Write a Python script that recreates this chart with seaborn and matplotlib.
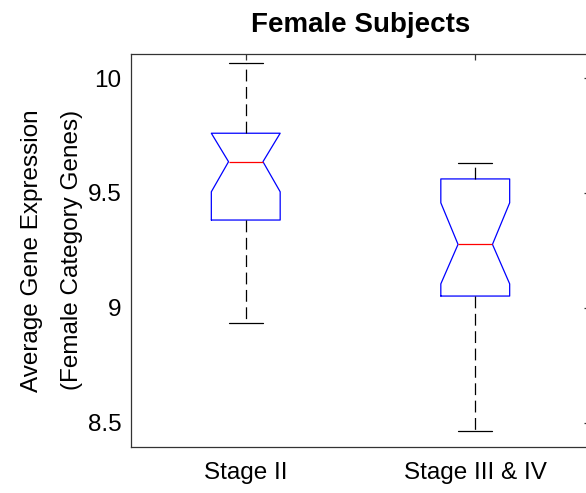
import matplotlib
matplotlib.use("Agg")
import matplotlib.pyplot as plt
import seaborn as sns

# Summary statistics of average gene expression per tumour stage
stages = ["Stage II", "Stage III & IV"]
whisker_low = [8.932, 8.464]
quartile_1 = [9.382, 9.051]
medians = [9.636, 9.276]
quartile_3 = [9.760, 9.561]
whisker_high = [10.064, 9.629]
notch_low = [9.505, 9.104]
notch_high = [9.760, 9.457]

y_ticks = [8.5, 9, 9.5, 10]
y_tick_labels = ["8.5", "9", "9.5", "10"]

sns.set_theme(style="white")
plt.rcParams["font.family"] = ["Liberation Sans", "DejaVu Sans"]
plt.rcParams["lines.scale_dashes"] = False

stats = []
for i, name in enumerate(stages):
    stats.append(dict(label=name, whislo=whisker_low[i], q1=quartile_1[i],
                      med=medians[i], q3=quartile_3[i], whishi=whisker_high[i],
                      cilo=notch_low[i], cihi=notch_high[i], fliers=[]))

fig = plt.figure(figsize=(5.86, 4.93), dpi=100)
ax = fig.add_axes([131 / 586, (493 - 446.7) / 493, (590 - 131) / 586, (446.7 - 54) / 493])

lw = 0.9
ax.bxp(stats, positions=[1, 2], widths=0.30, shownotches=True, showfliers=False,
       boxprops=dict(color="#0000ff", linewidth=lw),
       medianprops=dict(color="#ff0000", linewidth=lw),
       whiskerprops=dict(color="black", linewidth=lw, linestyle=(0, (8.5, 4.0))),
       capprops=dict(color="black", linewidth=lw),
       manage_ticks=False)

ax.set_xlim(0.5, 2.5)
ax.set_ylim(8.395, 10.105)
ax.set_xticks([1, 2])
ax.set_xticklabels(stages)
ax.set_yticks(y_ticks)
ax.set_yticklabels(y_tick_labels)

for side in ["left", "right", "top", "bottom"]:
    ax.spines[side].set_visible(True)
    ax.spines[side].set_color("#333333")
    ax.spines[side].set_linewidth(0.9)

ax.tick_params(direction="in", length=4, width=0.9, color="#333333",
               top=True, right=True, labelsize=17.5, labelcolor="black")
ax.tick_params(axis="x", pad=11)
ax.tick_params(axis="y", pad=7)

ax.set_title("Female Subjects", fontsize=20, fontweight="bold", pad=16, color="black")
ax.set_ylabel("Average Gene Expression\n(Female Category Genes)", fontsize=17.5,
              linespacing=2.1, color="black")
ax.yaxis.set_label_coords(-0.104, 0.5)

fig.savefig("out.png", dpi=100, facecolor="white")
